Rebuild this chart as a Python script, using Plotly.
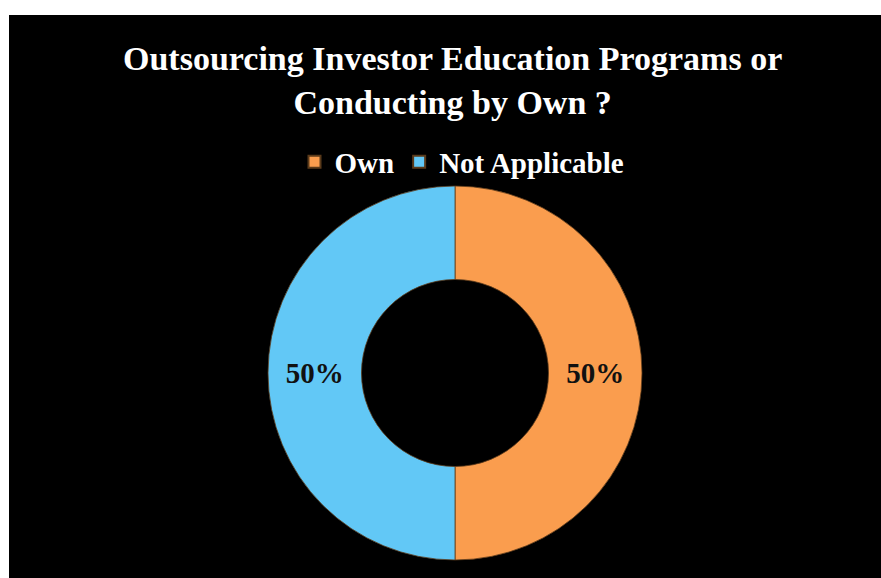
import plotly.graph_objects as go

# Survey answers and their shares
labels = ["Own", "Not Applicable"]
values = [50, 50]
colors = ["#FA9D4E", "#62C8F6"]

W, H = 881, 578
serif = "Liberation Serif, Times New Roman, serif"

# donut centre and outer radius in pixels
cx, cy, r = 455, 373, 187

fig = go.Figure()
fig.add_trace(go.Pie(
    labels=labels,
    values=values,
    hole=0.5,
    sort=False,
    direction="clockwise",
    rotation=0,
    marker=dict(colors=colors, line=dict(color="#5a3a1a", width=0.8)),
    textinfo="percent",
    textposition="inside",
    insidetextorientation="horizontal",
    textfont=dict(family=serif, size=29, color="#111111", weight="bold"),
    domain=dict(x=[(cx - r) / W, (cx + r) / W],
                y=[(H - cy - r) / H, (H - cy + r) / H]),
    hoverinfo="label+percent",
))

fig.update_layout(
    width=W,
    height=H,
    margin=dict(l=0, r=0, t=0, b=0),
    paper_bgcolor="white",
    plot_bgcolor="white",
    showlegend=True,
    legend=dict(
        orientation="h",
        x=462 / W,
        xanchor="center",
        y=(H - 162) / H,
        yanchor="middle",
        font=dict(family=serif, size=29, color="white", weight="bold"),
        itemsizing="constant",
        bgcolor="rgba(0,0,0,0)",
        itemwidth=30,
        tracegroupgap=0,
    ),
    shapes=[dict(
        type="rect", xref="paper", yref="paper",
        x0=9 / W, x1=1.0, y0=0, y1=(H - 15) / H,
        fillcolor="black", line=dict(width=0), layer="below",
    )],
    annotations=[dict(
        text="Outsourcing Investor Education Programs or<br>Conducting by Own ?",
        x=452 / W, y=(H - 80) / H, xref="paper", yref="paper",
        xanchor="center", yanchor="middle", showarrow=False,
        align="center",
        font=dict(family=serif, size=34, color="white", weight="bold"),
    )],
)

fig.write_html("out.html")
